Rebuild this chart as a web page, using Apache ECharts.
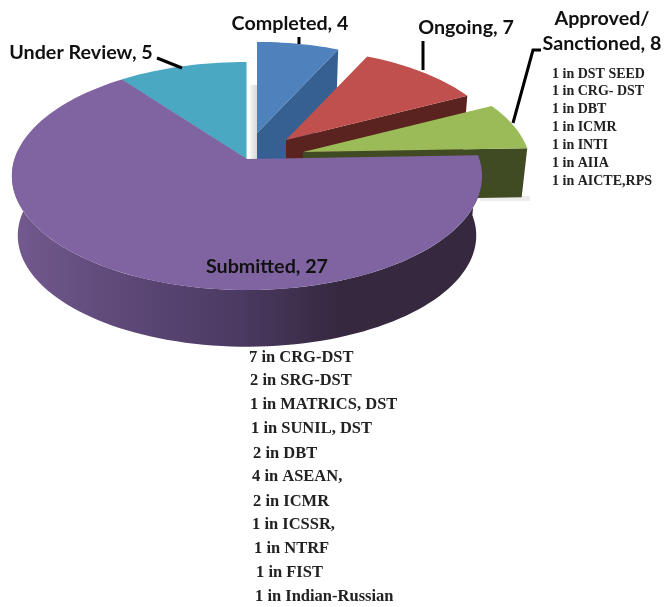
<!DOCTYPE html>
<html>
<head>
<meta charset="utf-8">
<style>html,body{margin:0;padding:0;background:#fff}#c{width:664px;height:607px}</style>
<script src="https://cdn.jsdelivr.net/npm/echarts@6/dist/echarts.min.js"></script>
</head>
<body>
<div id="c"></div>
<script>
// Categories in clockwise order, starting from the rim point where Under Review begins
const categories = ['Under Review', 'Completed', 'Ongoing', 'Approved/\nSanctioned', 'Submitted'];
// The numbers printed on the labels
const labelledValues = [5, 4, 7, 8, 27];
// The angle (degrees) each slice covers in the picture; the source picture does not draw
// its slices strictly in proportion to the printed numbers, so these are read separately
const drawnSweeps = [37, 25, 38, 25, 235];
const approvedBreakdown = ['1 in DST SEED', '1 in CRG- DST', '1 in DBT', '1 in ICMR', '1 in INTI', '1 in AIIA', '1 in AICTE,RPS'];
const submittedBreakdown = ['7 in CRG-DST', '2 in SRG-DST', '1 in MATRICS, DST', '1 in SUNIL, DST', '2 in DBT', '4 in ASEAN,', '2 in ICMR', '1 in ICSSR,', '1 in NTRF', '1 in FIST', '1 in Indian-Russian'];

// Layout and style
const startAngle = -37;
const R = 232.5, RY = 111.5, K = 0.149, BOTTOM_SCALE = 0.975;
const geom = [
  {ax: 246.5, ay: 159, r: 1.00, depth: 60, top: '#4aa8c2', wall: '#31809a', lx: 81,  ly: 53, lead: [[157, 58], [182, 68]]},
  {ax: 257,   ay: 133, r: 0.93, depth: 60, top: '#4f81bd', wall: '#376092', lx: 290, ly: 24, lead: [[299, 37], [299, 44]]},
  {ax: 286,   ay: 140, r: 0.93, depth: 58, top: '#c0504d', wall: '#5a2320', lx: 466, ly: 28, lead: [[423, 41], [423, 70]]},
  {ax: 303,   ay: 152, r: 0.97, depth: 49, top: '#9bbb59', wall: '#404b23', lx: 602, ly: 31, lead: [[513, 123], [533, 50], [541, 50]]},
  {ax: 247,   ay: 159, r: 1.00, depth: 60, top: '#8064a2', wall: null,      lx: 267, ly: 267, lead: null}
];
const approvedTops = [74, 91, 109, 127, 145, 163, 181];
const submittedLefts = [249, 250, 250, 251, 253, 252, 253, 252, 254, 256, 255];
const submittedTops = [358, 381, 405, 429, 454, 477, 502, 525, 549, 573, 597];

function project(g, deg, bottom) {
  const a = deg * Math.PI / 180;
  const v = g.r * Math.cos(a), u = g.r * Math.sin(a), s = 1 / (1 + K * v);
  const f = bottom ? BOTTOM_SCALE : 1;
  return [g.ax + R * u * s * f, g.ay - RY * v * s * f + (bottom ? g.depth : 0)];
}
function arc(g, from, to, bottom) {
  const pts = [], n = Math.max(2, Math.ceil(Math.abs(to - from) / 2));
  for (let i = 0; i <= n; i++) pts.push(project(g, from + (to - from) * i / n, bottom));
  return pts;
}
const starts = [];
drawnSweeps.reduce((acc, d, i) => { starts[i] = acc; return acc + d; }, startAngle);

const seriesData = categories.map((name, i) => ({name, value: [i, starts[i], drawnSweeps[i], labelledValues[i]]}));

function renderSlice(params, api) {
  const i = api.value(0), from = api.value(1), to = from + api.value(2), g = geom[i];
  const children = [];
  const apexTop = [g.ax, g.ay], apexBot = [g.ax, g.ay + g.depth];
  if (g.wall) {
    // cut face at the clockwise end of the slice
    children.push({type: 'polygon', shape: {points: [apexTop, project(g, to, false), project(g, to, true), apexBot]},
      style: {fill: g.wall}});
  } else {
    const rimFrom = from, rimTo = 275;
    const wallPts = arc(g, rimFrom, rimTo, false).concat(arc(g, rimTo, rimFrom, true));
    children.push({type: 'polygon', shape: {points: wallPts}, style: {
      fill: new echarts.graphic.LinearGradient(0, 0, 1, 0, [
        {offset: 0, color: '#735a8f'}, {offset: 0.18, color: '#624c7d'}, {offset: 0.48, color: '#4b3a62'}, {offset: 0.7, color: '#35283f'}, {offset: 1, color: '#35283f'}])
    }});
  }
  children.push({type: 'polygon', shape: {points: [apexTop].concat(arc(g, from, to, false))}, style: {fill: g.top}});
  if (g.lead) children.push({type: 'polyline', shape: {points: g.lead}, style: {stroke: '#000', lineWidth: 3, fill: null}});
  return {type: 'group', children};
}

// Slice name labels sit in a second custom series so they stay above every slice
function renderLabel(params, api) {
  const i = api.value(0), g = geom[i];
  return {type: 'text', x: g.lx, y: g.ly, style: {
    text: categories[i] + ', ' + api.value(3), align: 'center', verticalAlign: 'middle',
    font: 'bold 19.7px Lato', fill: '#111', lineHeight: 25
  }};
}

const graphics = [
  {type: 'rect', z: 0, shape: {x: 250, y: 85, width: 7, height: 75},
    style: {fill: new echarts.graphic.LinearGradient(0, 0, 1, 0, [{offset: 0, color: '#f4f4f4'}, {offset: 1, color: '#d9d9d9'}])}},
  {type: 'rect', z: 0, shape: {x: 480, y: 196, width: 50, height: 5}, style: {fill: '#ececec'}}
];
approvedBreakdown.forEach((t, i) => graphics.push({type: 'text', z: 10, x: 552, y: approvedTops[i],
  style: {text: t, font: 'bold 14px "Liberation Serif"', fill: '#222', verticalAlign: 'middle'}}));
submittedBreakdown.forEach((t, i) => graphics.push({type: 'text', z: 10, x: submittedLefts[i], y: submittedTops[i],
  style: {text: t, font: 'bold 16.5px "Liberation Serif"', fill: '#222', verticalAlign: 'middle'}}));

const chart = echarts.init(document.getElementById('c'));
chart.setOption({
  animation: false,
  backgroundColor: '#fff',
  graphic: graphics,
  series: [
    {type: 'custom', coordinateSystem: 'none', silent: true, z: 2, renderItem: renderSlice, data: seriesData},
    {type: 'custom', coordinateSystem: 'none', silent: true, z: 5, renderItem: renderLabel, data: seriesData}
  ]
});
</script>
</body>
</html>
